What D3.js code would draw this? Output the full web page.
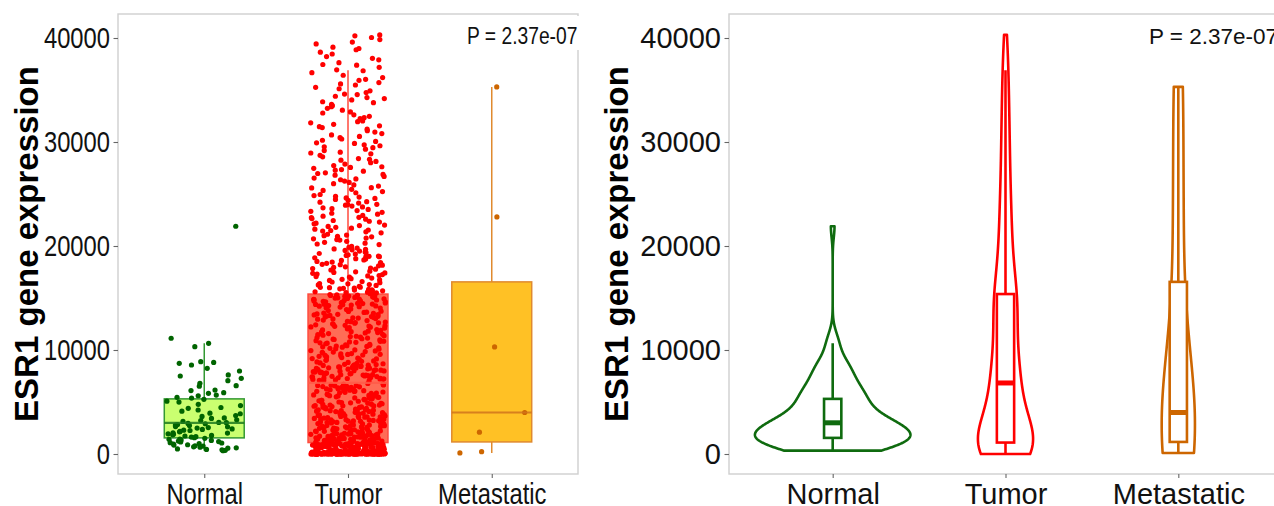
<!DOCTYPE html>
<html lang="en">
<head>
    <meta charset="UTF-8">
    <script type="text/javascript" src="https://cdn.jsdelivr.net/npm/d3@7/dist/d3.min.js"></script>
    <title>ESR1 gene expression</title>
    <style>
        body { margin: 0; background: #fff; }
    </style>
</head>
<body>

</body>
<script>

    let categories = ["Normal", "Tumor", "Metastatic"]
    let yTicks = [0, 10000, 20000, 30000, 40000]
    let pLabel = "P = 2.37e-07"
    let yTitle = "ESR1 gene expression"

    // box statistics
    let whiskerLow = [320, 0, 100]
    let q1 = [1550, 1100, 1160]
    let median = [3000, 6830, 3990]
    let q3 = [5300, 15380, 16550]
    let whiskerHigh = [10650, 36900, 35300]

    let normalValues = [
        21900, 11130, 10640, 10320, 8880, 8810, 8720, 8560, 8240, 7980, 7600, 7500, 7280, 7050, 6800,
        6570, 6520, 6150, 6100, 5900, 5830, 5670, 5600, 5450, 5380,
        5260, 5080, 4990, 4780, 4660, 4470, 4390, 4230, 4120, 3930, 3870, 3690, 3610, 3470, 3420,
        3290, 3210, 3130, 3040, 3010, 2940, 2910, 2830, 2790, 2730, 2640, 2610, 2540, 2490, 2410,
        2360, 2290, 2260, 2170, 2130, 2040, 2010, 1940, 1910, 1840, 1790, 1730, 1670, 1630, 1570,
        1510, 1440, 1410, 1340, 1310, 1240, 1190, 1160, 1090, 1060, 990, 960, 890, 860, 790,
        760, 690, 660, 590, 560, 490, 440, 410, 350, 320
    ]

    let tumorValues = [
        // near zero
        0, 40, 120, 0, 260, 80, 15, 310, 0, 190, 55, 430, 0, 140, 30, 0, 220, 95, 360, 0,
        10, 170, 480, 65, 0, 290, 25, 0, 150, 400, 70, 0, 240, 5, 110, 520, 0, 35, 200, 0,
        330, 85, 0, 130, 20, 270, 0, 60, 450, 0, 180, 12, 90, 0, 380, 45, 0, 230, 140, 0,
        8, 300, 75, 0, 160, 560, 0, 28, 210, 0, 100, 350, 0, 50, 250, 0, 18, 125, 410, 0,
        66, 280, 0, 38, 190, 0, 90, 470, 0, 22, 145, 0, 320, 58, 0, 205, 3, 0, 115, 390,
        0, 48, 265, 0, 135, 26, 0, 340, 78, 0, 175, 500, 0, 14, 225, 0, 105, 44, 0, 290,
        0, 62, 155, 0, 420, 33, 0, 245, 88, 0, 185, 7, 0, 370, 118, 0, 52, 215, 0, 580,
        0, 36, 160, 0, 98, 310, 0, 24, 460, 0,
        // 600 - 1100
        620, 880, 710, 1050, 650, 930, 780, 1000, 690, 840, 1080, 610, 960, 740, 870, 1020, 660, 800, 910, 1090,
        700, 980, 760, 640, 890, 1040, 720, 850, 950, 680, 1010, 790, 630, 920, 830, 1070, 750, 990, 670, 860,
        1030, 730, 900, 610, 970, 810, 1060, 690, 940, 770, 1000, 650, 880, 820, 1090, 710, 960, 600, 1040, 850,
        // lower half of the box
        1150, 3420, 5610, 2280, 6400, 1830, 4170, 2950, 5120, 1390, 6780, 3800, 2050, 4620, 1620, 5890, 3160, 2510, 4380, 1210,
        6050, 3610, 2740, 5300, 1940, 4890, 1480, 6620, 2330, 3970, 5450, 1730, 4120, 2870, 6210, 1320, 3540, 5760, 2180, 4710,
        1560, 6330, 3050, 2620, 4950, 1890, 5580, 3330, 1270, 4460, 6700, 2410, 3720, 5170, 1680, 4050, 2990, 6140, 1430, 3880,
        5020, 2160, 4560, 1770, 6510, 3260, 2560, 5680, 1190, 4230, 3650, 1990, 6030, 2800, 4790, 1520, 5390, 3110, 2380, 6460,
        1840, 4310, 3490, 1340, 5930, 2700, 4170, 1630, 6260, 3010, 2230, 5240, 1410, 4640, 3830, 2090, 6590, 1250, 3580, 5070,
        2470, 4400, 1710, 6090, 3200, 2650, 5500, 1370, 4860, 3760, 1920, 6380, 2930, 4080, 1540, 5710, 3370, 2120, 6690, 1280,
        4530, 3690, 2530, 5820, 1650, 4250, 3090, 6170, 1450, 3920, 5340, 2260, 4700, 1800, 6480, 2840, 3450, 5150, 1130, 4010,
        2600, 6300, 3570, 1870, 5000, 2420, 4340, 1500, 6560, 3280, 2010, 5630, 1310, 4590, 3810, 2720, 6010, 1740, 3230, 5470,
        2140, 4920, 1590, 6740, 3040, 2340, 5260, 1220, 4160, 3640, 1960, 6240, 2780, 4480, 1460, 5550, 3390, 2500, 6420, 1700,
        4770, 3140, 2070, 5960, 1350, 4270, 3510, 2890, 6110, 1580, 3990, 5190, 2300, 4660, 1780, 6640, 3180, 2440, 5400, 1260,
        4090, 3710, 1910, 6180, 2680, 4830, 1400, 5860, 3300, 2210, 6350, 1610, 4500, 3850, 2560, 5660, 1170, 4210, 3020, 6580,
        // upper half of the box
        7120, 10450, 13890, 8370, 14920, 9210, 11760, 7540, 12830, 15100, 8850, 10980, 13240, 7010, 14360, 9630, 12150, 8090, 11320, 15280,
        7780, 13560, 10010, 8620, 14680, 9440, 12470, 7330, 11580, 15020, 8230, 13070, 10690, 7900, 14210, 9850, 12690, 7210, 11040, 14850,
        8480, 13410, 10270, 7650, 15190, 9070, 12280, 8010, 11890, 14490, 7420, 13730, 10830, 8760, 14040, 9330, 12960, 7070, 11230, 15330,
        8320, 13320, 10540, 7860, 14590, 9710, 12040, 7590, 11470, 14990, 8950, 13180, 10130, 7270, 14280, 9520, 12580, 8160, 11680, 15150,
        7730, 13640, 10380, 8540, 14770, 9140, 12370, 7480, 11150, 14410, 8680, 13020, 10740, 7960, 14130, 9910, 12760, 7170, 11420, 15240,
        8420, 13470, 10210, 7620, 14640, 9270, 12220, 7830, 11970, 14900, 8290, 13800, 10900, 7360, 14320, 9570, 12880, 8060, 11290, 15060,
        7510, 13280, 10600, 8910, 14550, 9010, 12520, 7230, 11810, 14240, 8580, 13610, 10340, 7690, 15110, 9780, 12110, 7920, 11540, 14720,
        7030, 13130, 10780, 8190, 14460, 9390, 12640, 7440, 11080, 14960, 8810, 13370, 10070, 7580, 14170, 9660, 12320, 8250, 11740, 15300,
        7790, 13950, 10490, 8710, 14630, 9180, 12990, 7300, 11380, 14810, 8450, 13520, 10160, 7990, 14380, 9580, 12420, 7140, 11640, 15210,
        8360, 13210, 10660, 7710, 14060, 9940, 12720, 8040, 11190, 14530, 7470, 13700, 10310, 8600, 14880, 9100, 12190, 7260, 11930, 15040,
        8130, 13430, 10850, 7880, 14270, 9480, 12610, 7400, 11510, 14700, 8520, 13090, 10420, 7630, 15160, 9800, 12300, 8280, 11010, 14420,
        // above the box
        15520, 17830, 19420, 16210, 18660, 15940, 19870, 17120, 16580, 18240, 15710, 19150, 17460, 16030, 18950, 15460, 17690, 19630, 16800, 18410,
        15830, 19280, 17250, 16390, 18780, 15620, 19960, 17940, 16120, 18090, 15410, 19510, 17370, 16690, 18520, 15780, 19030, 17580, 16300, 18870,
        15990, 19720, 17010, 16470, 18330, 15560, 19360, 17770, 16920, 18160, 15690, 19090, 17300, 16040, 18610, 15880, 19800, 17520, 16750, 18000,
        15490, 19230, 17160, 16540, 18740, 15760, 19570, 17880, 16260, 18450, 15930, 19010, 17410, 16860, 18200, 15600, 19680, 17060, 16360, 18970,
        20350, 23840, 21620, 24570, 22190, 20880, 24130, 21270, 23410, 22760, 20140, 24850, 21880, 23060, 22450, 20620, 24390, 21440, 23670, 22010,
        20990, 24700, 21710, 23240, 22580, 20270, 24260, 21130, 23930, 22300, 20760, 24950, 21960, 23520, 22870, 20450, 24010, 21540, 23150, 22130,
        20570, 24480, 21360, 23760, 22640, 20190, 24780, 21800, 23330, 22940, 20690, 24210, 21050, 23590, 22380, 20920, 24620, 21490, 23980, 22720,
        25340, 28720, 26810, 29450, 27190, 25870, 28130, 26240, 29860, 27620, 25120, 28940, 26530, 29180, 27880, 25610, 28410, 26970, 29640, 27350,
        25990, 28250, 26370, 29310, 27740, 25450, 28860, 26690, 29020, 27470, 25760, 28570, 26110, 29730, 27040, 25230, 28010, 26880, 29540, 27290,
        25580, 28330, 26450, 29920, 27560,
        30420, 33870, 31560, 34610, 32240, 30950, 34180, 31230, 33390, 32790, 30170, 34920, 31840, 33060, 32470, 30680, 34400, 31390, 33620, 32030,
        30810, 34750, 31700, 33240, 32610, 30290, 34050, 31080, 33780, 32340, 30540, 34560, 31950, 33490, 32890, 30060, 34270, 31470,
        35260, 39850, 36420, 40210, 37180, 35710, 39120, 36850, 38460, 37630, 35480, 40050, 36190, 38870, 37390, 35930, 39430, 36670, 38210, 37900,
        35120, 39610, 36030, 40300, 38640, 35580, 38990, 36940, 38050, 37450
    ]

    let metastaticValues = [100, 220, 2100, 3990, 10300, 22800, 35300]

    let groups = [normalValues, tumorValues, metastaticValues]

    let pointColor = ["#006400", "#ff0000", "#cd6600"]
    let boxFill = ["#caff70", "#ff6c56", "#ffc125"]
    let boxStroke = ["#339933", "#ff4a3d", "#e08a2e"]
    let medianStroke = ["#1f7a1f", "#ff5a48", "#d0741c"]
    let violinColor = ["#0f6b0f", "#ff0000", "#cd6600"]

    let width = 1274,
        height = 506,
        panelTop = 14,
        panelBottom = 474,
        narrow = 0.82,
        y = d3.scaleLinear()
            .domain([0, 40000])
            .range([454, 38])

    let sansFont = "'Liberation Sans', Arial, sans-serif"

    let svg = d3.select("body")
        .append("svg")
        .attr("width", width)
        .attr("height", height)
        .style("display", "block")

    // little deterministic jitter so the picture is the same on every run
    function jitter(i, k) {
        let s = Math.sin((i + 1) * 12.9898 + k * 78.233) * 43758.5453
        return s - Math.floor(s) - 0.5
    }

    function kde(values) {
        let sorted = values.slice().sort(d3.ascending)
        let sd = d3.deviation(sorted)
        let iqr = d3.quantile(sorted, 0.75) - d3.quantile(sorted, 0.25)
        let bw = 0.9 * Math.min(sd, iqr / 1.34) * Math.pow(sorted.length, -0.2)
        let lo = sorted[0], hi = sorted[sorted.length - 1]
        let norm = sorted.length * bw * Math.sqrt(2 * Math.PI)
        return d3.range(512).map(function (i) {
            let t = lo + (hi - lo) * i / 511
            return [t, d3.sum(sorted, v => Math.exp(-0.5 * ((t - v) / bw) ** 2)) / norm]
        })
    }

    function panelFrame(x0, x1) {
        svg.append("rect")
            .attr("x", x0)
            .attr("y", panelTop)
            .attr("width", x1 - x0)
            .attr("height", panelBottom - panelTop)
            .attr("fill", "none")
            .attr("stroke", "#cfcfcf")
            .attr("stroke-width", 1.4)
    }

    // sx < 1 squeezes the tick text horizontally (left panel is condensed in the original)
    function axes(x, x0, sx, title, titleX) {
        let gy = svg.append("g")
            .attr("transform", "translate(" + x0 + ",0)")
            .call(d3.axisLeft(y).tickValues(yTicks).tickSize(4.5).tickPadding(3.5).tickFormat(d3.format("d")))
        let gx = svg.append("g")
            .attr("transform", "translate(0," + panelBottom + ")")
            .call(d3.axisBottom(x).tickSize(4).tickPadding(5.5))
        ;[gy, gx].forEach(function (g) {
            g.select(".domain").remove()
            g.selectAll(".tick line").attr("stroke", "#666").attr("stroke-width", 1.1)
            g.selectAll(".tick text")
                .attr("fill", "#111")
                .style("font-family", sansFont)
                .style("font-size", "29px")
        })
        if (sx !== 1) {
            gy.selectAll(".tick text")
                .attr("x", -8 / sx)
                .attr("transform", "scale(" + sx + ",1)")
            gx.selectAll(".tick text")
                .attr("transform", "scale(" + sx + ",1)")
        }
        svg.append("text")
            .attr("transform", "translate(" + titleX + "," + ((panelTop + panelBottom) / 2) + ") rotate(-90)")
            .attr("text-anchor", "middle")
            .style("font-family", sansFont)
            .style("font-weight", "bold")
            .style("font-size", "33px")
            .attr("fill", "#000")
            .text(title)
    }

    function pText(px, sx, size) {
        let g = svg.append("g")
        let t = g.append("text")
            .attr("transform", "translate(" + px + ",44) scale(" + sx + ",1)")
            .style("font-family", sansFont)
            .style("font-size", size + "px")
            .attr("fill", "#111")
            .text(pLabel)
        let w = t.node().getComputedTextLength() * sx
        g.insert("rect", "text")
            .attr("x", px - 4)
            .attr("y", panelTop + 2)
            .attr("width", w + 10)
            .attr("height", 34)
            .attr("fill", "white")
    }

    // ---------- left panel: box + jitter ----------
    let xL = d3.scalePoint()
        .domain(categories)
        .range([118, 578])
        .padding(0.6)
    let stepL = xL.step(),
        boxHalf = 0.278 * stepL,
        jitterW = 0.26 * stepL

    categories.forEach(function (c, k) {
        let cx = xL(c)
        let g = svg.append("g")
        g.append("line")
            .attr("x1", cx).attr("x2", cx)
            .attr("y1", y(q3[k])).attr("y2", y(whiskerHigh[k]))
            .attr("stroke", boxStroke[k]).attr("stroke-width", 1.5)
        g.append("line")
            .attr("x1", cx).attr("x2", cx)
            .attr("y1", y(q1[k])).attr("y2", y(whiskerLow[k]))
            .attr("stroke", boxStroke[k]).attr("stroke-width", 1.5)
        g.append("rect")
            .attr("x", cx - boxHalf)
            .attr("y", y(q3[k]))
            .attr("width", boxHalf * 2)
            .attr("height", y(q1[k]) - y(q3[k]))
            .attr("fill", boxFill[k])
            .attr("stroke", boxStroke[k])
            .attr("stroke-width", 1.5)

        g.append("g").selectAll("circle")
            .data(groups[k])
            .enter()
            .append("circle")
            .attr("cx", (d, i) => cx + jitter(i, k) * 2 * jitterW)
            .attr("cy", d => y(d))
            .attr("r", 2.6)
            .attr("fill", pointColor[k])

        g.append("line")
            .attr("x1", cx - boxHalf).attr("x2", cx + boxHalf)
            .attr("y1", y(median[k])).attr("y2", y(median[k]))
            .attr("stroke", medianStroke[k]).attr("stroke-width", 2.2)
            .attr("stroke-opacity", 0.85)
    })

    panelFrame(118, 578)
    axes(xL, 118, narrow, yTitle, 38)
    pText(467, narrow, 23.5)

    // ---------- right panel: violin + thin box ----------
    let xR = d3.scalePoint()
        .domain(categories)
        .range([729, 1282])
        .padding(0.6)
    let stepR = xR.step(),
        violinHalf = 0.45 * stepR,
        innerHalf = 0.05 * stepR

    let dens = groups.map(kde)
    let maxD = d3.max(dens, d => d3.max(d, p => p[1]))

    categories.forEach(function (c, k) {
        let cx = xR(c)
        let g = svg.append("g")
        let area = d3.area()
            .y(d => y(d[0]))
            .x0(d => cx - d[1] / maxD * violinHalf)
            .x1(d => cx + d[1] / maxD * violinHalf)
        g.append("path")
            .attr("d", area(dens[k]))
            .attr("fill", "white")
            .attr("stroke", violinColor[k])
            .attr("stroke-width", 2.6)
            .attr("stroke-linejoin", "round")

        g.append("line")
            .attr("x1", cx).attr("x2", cx)
            .attr("y1", y(q3[k])).attr("y2", y(whiskerHigh[k]))
            .attr("stroke", violinColor[k]).attr("stroke-width", 2.6)
        g.append("line")
            .attr("x1", cx).attr("x2", cx)
            .attr("y1", y(q1[k])).attr("y2", y(whiskerLow[k]))
            .attr("stroke", violinColor[k]).attr("stroke-width", 2.6)
        g.append("rect")
            .attr("x", cx - innerHalf)
            .attr("y", y(q3[k]))
            .attr("width", innerHalf * 2)
            .attr("height", y(q1[k]) - y(q3[k]))
            .attr("fill", "white")
            .attr("stroke", violinColor[k])
            .attr("stroke-width", 2.6)
        g.append("line")
            .attr("x1", cx - innerHalf).attr("x2", cx + innerHalf)
            .attr("y1", y(median[k])).attr("y2", y(median[k]))
            .attr("stroke", violinColor[k]).attr("stroke-width", 5)
    })

    panelFrame(729, 1282)
    axes(xR, 729, 1, yTitle, 628)
    pText(1149, 1, 22.5)

</script>
</html>
